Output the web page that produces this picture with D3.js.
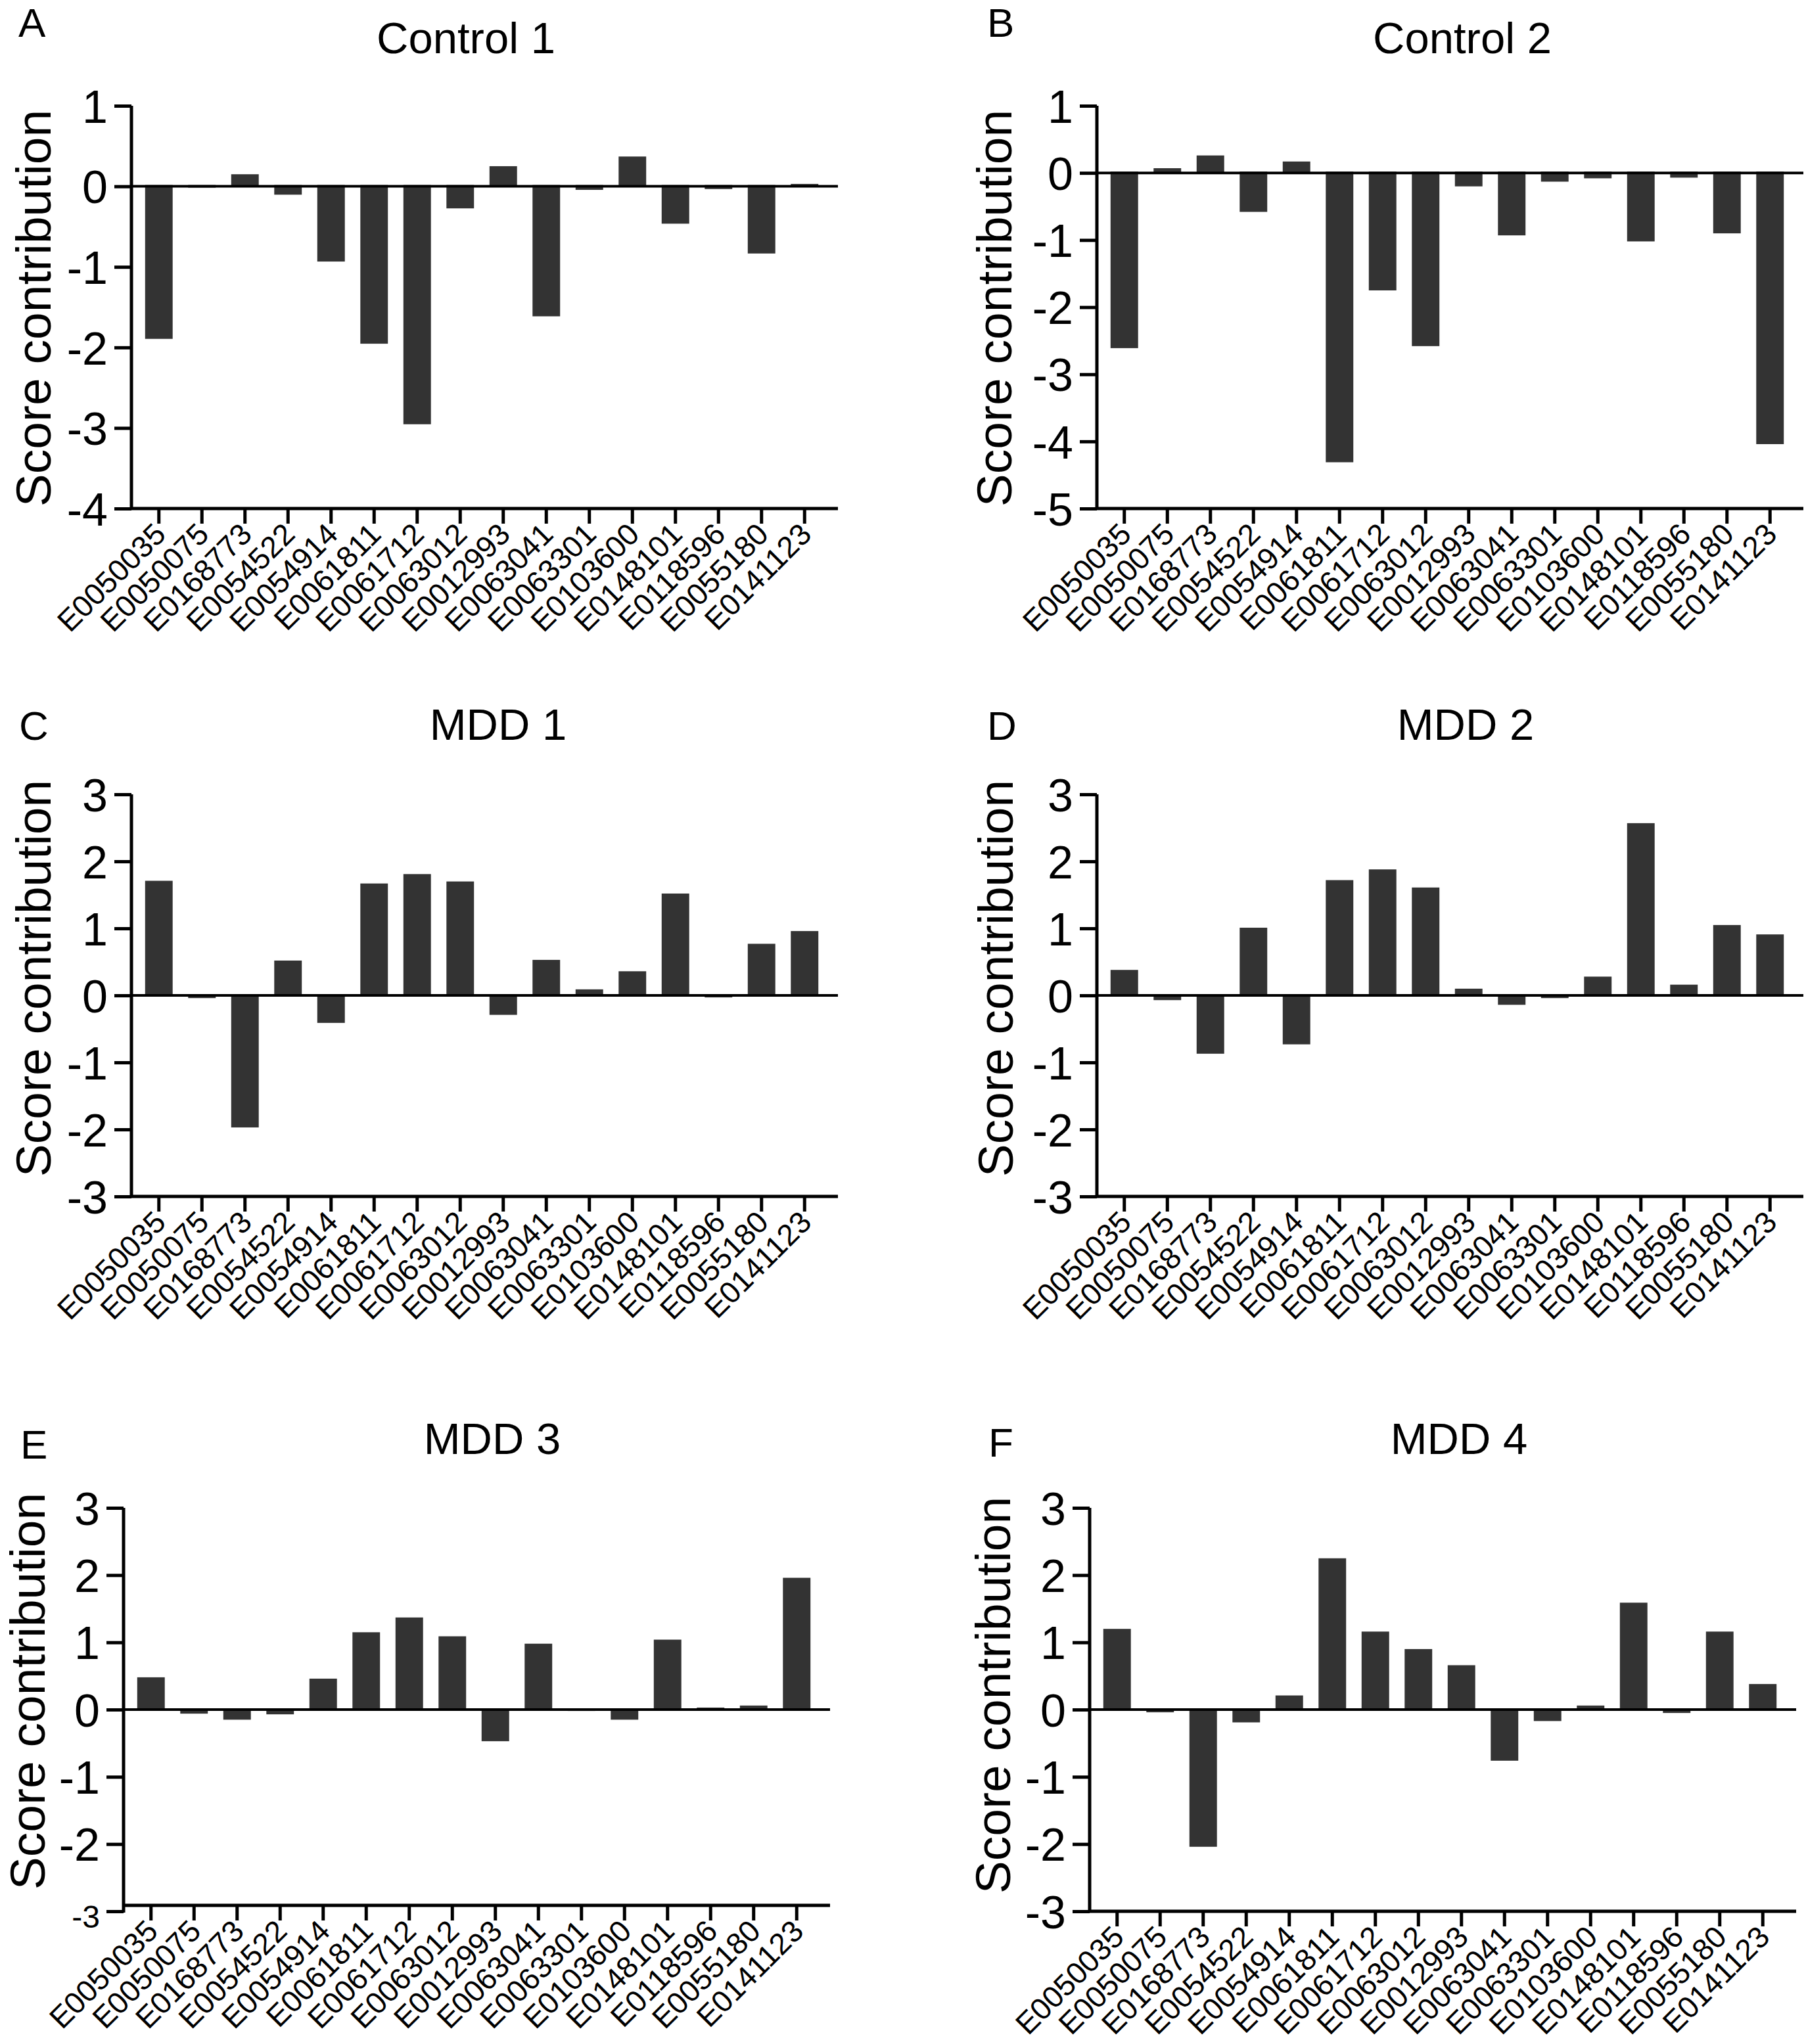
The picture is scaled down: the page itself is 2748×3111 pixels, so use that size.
<!DOCTYPE html>
<html>
<head>
<meta charset="utf-8">
<script src="https://cdnjs.cloudflare.com/ajax/libs/d3/7.8.5/d3.min.js"></script>
<style>
  body { margin: 0; background: #fff; }
  text { font-family: "Liberation Sans", Arial, sans-serif; fill: #000; }
</style>
</head>
<body>
<script>
// gene ids on the x axis (same for every panel)
var genes = ["E0050035","E0050075","E0168773","E0054522","E0054914","E0061811","E0061712","E0063012",
             "E0012993","E0063041","E0063301","E0103600","E0148101","E0118596","E0055180","E0141123"];

// score contributions
var control1 = [-1.91,-0.03, 0.15,-0.12,-0.95,-1.97,-2.97,-0.29, 0.25,-1.63,-0.06, 0.37,-0.48,-0.05,-0.85, 0.03];
var control2 = [-2.63, 0.07, 0.26,-0.60, 0.17,-4.33,-1.77,-2.60,-0.22,-0.95,-0.15,-0.10,-1.04,-0.09,-0.92,-4.06];
var mdd1     = [ 1.71,-0.06,-1.99, 0.52,-0.43, 1.67, 1.81, 1.70,-0.31, 0.53, 0.09, 0.36, 1.52,-0.05, 0.77, 0.96];
var mdd2     = [ 0.38,-0.09,-0.89, 1.01,-0.75, 1.72, 1.88, 1.61, 0.10,-0.16,-0.06, 0.28, 2.57, 0.16, 1.05, 0.91];
var mdd3     = [ 0.48,-0.08,-0.17,-0.09, 0.46, 1.15, 1.37, 1.09,-0.49, 0.98,-0.04,-0.17, 1.04, 0.03, 0.06, 1.96];
var mdd4     = [ 1.20,-0.06,-2.06,-0.21, 0.21, 2.25, 1.16, 0.90, 0.66,-0.78,-0.19, 0.06, 1.59,-0.07, 1.16, 0.38];

var titles  = ["Control 1","Control 2","MDD 1","MDD 2","MDD 3","MDD 4"];
var letters = ["A","B","C","D","E","F"];
var yDomains = [[-4,1],[-5,1],[-3,3],[-3,3],[-3,3],[-3,3]];
var series = [control1, control2, mdd1, mdd2, mdd3, mdd4];

// where each panel sits on the page
var panels = [
  {ax:200,  top:161,  bot:774,  tx:709,  ty:81,   lx:28,   ly:56,   labX:77,   labY:469},
  {ax:1669, top:161,  bot:774,  tx:2225, ty:81,   lx:1502, ly:56,   labX:1539, labY:469},
  {ax:200,  top:1209, bot:1821, tx:758,  ty:1126, lx:29,   ly:1126, labX:77,   labY:1489},
  {ax:1669, top:1209, bot:1821, tx:2230, ty:1126, lx:1502, ly:1126, labX:1541, labY:1489},
  {ax:188,  top:2295, bot:2909, tx:749,  ty:2213, lx:31,   ly:2220, labX:68,   labY:2574, shift:-9, smallLast:true},
  {ax:1658, top:2295, bot:2909, tx:2220, ty:2213, lx:1504, ly:2217, labX:1537, labY:2580}
];

var svg = d3.select("body").append("svg")
    .attr("width", 2748)
    .attr("height", 3111);

svg.append("rect").attr("width", 2748).attr("height", 3111).style("fill", "#fff");

panels.forEach(function(p, i) {
    var vals = series[i];
    var g = svg.append("g");

    var x = d3.scaleBand()
        .domain(genes)
        .range([p.ax + 9, p.ax + 9 + 16 * 65.5])
        .paddingInner(0.36)
        .paddingOuter(0.18);

    var y = d3.scaleLinear()
        .domain(yDomains[i])
        .range([p.bot, p.top]);

    var right = p.ax + 1075;
    var baseY = y(yDomains[i][0]) + (p.shift || 0);

    // bars
    g.selectAll("rect.bar")
        .data(vals)
        .enter()
        .append("rect")
        .attr("class", "bar")
        .attr("x", function(d, j) { return x(genes[j]); })
        .attr("width", x.bandwidth())
        .attr("y", function(d) { return Math.min(y(d), y(0) - 2); })
        .attr("height", function(d) { return Math.max(4, Math.abs(y(d) - y(0))); })
        .style("fill", "#333333");

    // zero line
    g.append("line")
        .attr("x1", p.ax).attr("x2", right)
        .attr("y1", y(0)).attr("y2", y(0))
        .attr("stroke", "#000").attr("stroke-width", 4);

    // y axis
    var yAxis = d3.axisLeft(y)
        .tickValues(d3.range(yDomains[i][0], yDomains[i][1] + 1))
        .tickFormat(function(d) { return String(d); })
        .tickSize(26)
        .tickSizeOuter(0)
        .tickPadding(10);

    var yg = g.append("g")
        .attr("transform", "translate(" + p.ax + ",0)")
        .call(yAxis);
    yg.select(".domain").attr("stroke-width", 5).attr("d", "M0," + y(yDomains[i][1]) + "V" + (p.bot + 2));
    yg.selectAll(".tick line").attr("stroke-width", 5);
    yg.selectAll(".tick text")
        .style("font-size", "70px")
        .attr("dy", "0.36em");
    if (p.smallLast) {
        yg.selectAll(".tick text")
            .filter(function(d) { return d === yDomains[i][0]; })
            .style("font-size", "48px")
            .attr("dy", "0.5em");
    }

    // x axis line
    g.append("line")
        .attr("x1", p.ax - 2).attr("x2", right)
        .attr("y1", baseY).attr("y2", baseY)
        .attr("stroke", "#000").attr("stroke-width", 5);

    var xAxis = d3.axisBottom(x)
        .tickSize(23)
        .tickSizeOuter(0);

    var xg = g.append("g")
        .attr("transform", "translate(0," + baseY + ")")
        .call(xAxis);
    xg.select(".domain").remove();
    xg.selectAll(".tick line").attr("stroke-width", 5);
    xg.selectAll(".tick text")
        .style("font-size", "46px")
        .attr("x", 0).attr("y", 0).attr("dy", 0)
        .attr("text-anchor", "end")
        .attr("transform", "translate(13,42) rotate(-45)");

    // y label
    g.append("text")
        .attr("transform", "translate(" + p.labX + "," + p.labY + ") rotate(-90)")
        .attr("text-anchor", "middle")
        .style("font-size", "75px")
        .text("Score contribution");

    // title
    g.append("text")
        .attr("x", p.tx).attr("y", p.ty)
        .attr("text-anchor", "middle")
        .style("font-size", "67px")
        .text(titles[i]);

    // panel letter
    g.append("text")
        .attr("x", p.lx).attr("y", p.ly)
        .style("font-size", "62px")
        .text(letters[i]);
});
</script>
</body>
</html>
